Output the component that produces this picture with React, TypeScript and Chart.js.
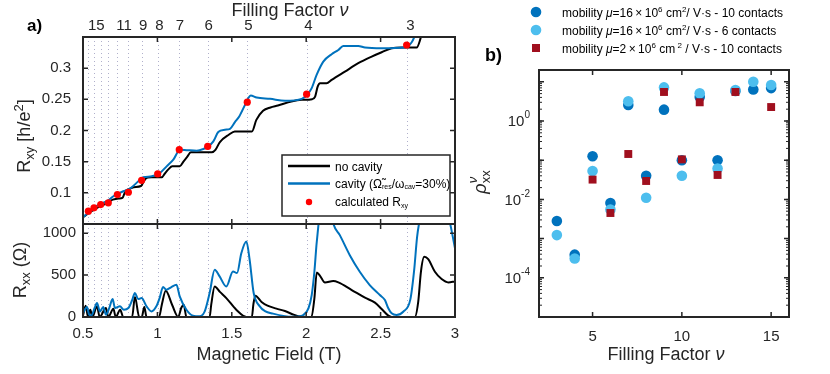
import React, { useEffect, useRef } from 'react';
import { Chart, registerables } from 'chart.js';

Chart.register(...registerables);

const FONT = '"Liberation Sans", Arial, Helvetica, sans-serif';
const AXIS_COLOR = '#262626';
const BLACK = '#000000';
const BLUE = '#0072BD';
const LIGHT_BLUE = '#4DBEEE';
const DARK_RED = '#A00F1E';
const RED = '#FF0000';
const DOT_GRID = 'rgba(150,150,185,0.75)';

// ---------- Panel a (top): Hall resistance Rxy [h/e^2] vs magnetic field (T)
const rxyNoCavityB = [0.50, 0.53, 0.56, 0.58, 0.61, 0.64, 0.67, 0.70, 0.74, 0.765, 0.785, 0.81, 0.84, 0.89, 0.915, 0.935, 0.96, 1.03, 1.05, 1.075, 1.10, 1.15, 1.175, 1.20, 1.225, 1.365, 1.39, 1.42, 1.48, 1.52, 1.635, 1.665, 1.71, 1.76, 1.81, 1.90, 1.97, 2.04, 2.06, 2.077, 2.093, 2.137, 2.171, 2.26, 2.35, 2.44, 2.507, 2.574, 2.64, 2.742, 2.765, 2.79];
const rxyNoCavity = [0.061, 0.066, 0.071, 0.074, 0.078, 0.081, 0.085, 0.089, 0.091, 0.092, 0.1025, 0.106, 0.109, 0.111, 0.121, 0.1245, 0.125, 0.125, 0.131, 0.138, 0.1425, 0.1425, 0.150, 0.1575, 0.165, 0.165, 0.169, 0.1815, 0.1932, 0.1985, 0.1985, 0.217, 0.2316, 0.237, 0.240, 0.2465, 0.2492, 0.2503, 0.2545, 0.2705, 0.2759, 0.2759, 0.2812, 0.2945, 0.3079, 0.3185, 0.3255, 0.3319, 0.333, 0.333, 0.345, 0.370];

const rxyCavityB = [0.50, 0.54, 0.57, 0.60, 0.636, 0.67, 0.704, 0.74, 0.771, 0.816, 0.872, 0.905, 0.962, 1.017, 1.062, 1.107, 1.152, 1.197, 1.264, 1.309, 1.342, 1.376, 1.409, 1.454, 1.488, 1.521, 1.55, 1.589, 1.611, 1.627, 1.667, 1.757, 1.858, 1.97, 2.003, 2.037, 2.07, 2.115, 2.171, 2.216, 2.249, 2.35, 2.395, 2.507, 2.664, 2.709, 2.745];
const rxyCavity = [0.061, 0.069, 0.0759, 0.080, 0.0839, 0.088, 0.0945, 0.099, 0.1025, 0.1069, 0.1185, 0.1249, 0.1265, 0.1319, 0.1425, 0.1532, 0.1692, 0.1685, 0.1676, 0.1703, 0.1745, 0.1825, 0.1975, 0.2012, 0.2028, 0.2135, 0.2225, 0.2412, 0.2519, 0.2561, 0.2529, 0.2508, 0.2476, 0.2508, 0.2561, 0.2679, 0.2892, 0.3105, 0.3223, 0.3292, 0.3356, 0.3356, 0.333, 0.3319, 0.333, 0.3415, 0.36];

// calculated Rxy, one per integer filling factor nu = 15 ... 3
const calcB = [0.536, 0.574, 0.619, 0.670, 0.731, 0.805, 0.894, 1.002, 1.147, 1.338, 1.604, 2.003, 2.675];
const calcRxy = [0.0705, 0.0759, 0.0812, 0.0839, 0.0972, 0.1009, 0.1201, 0.1303, 0.1692, 0.1745, 0.2455, 0.2583, 0.3372];

// top axis (filling factor) labels
const topTickB = [0.589, 0.776, 0.904, 1.013, 1.152, 1.345, 1.612, 2.015, 2.70];
const topTickLabels = ['15', '11', '9', '8', '7', '6', '5', '4', '3'];

const fieldTicks = [0.5, 1, 1.5, 2, 2.5, 3];
const rxyTicks = [0.1, 0.15, 0.2, 0.25, 0.3];
const rxxTicks = [0, 500, 1000];

// ---------- Panel a (bottom): Rxx (Ohm) vs magnetic field (T)
const rxxNoCavityB = [0.50, 0.518, 0.534, 0.549, 0.563, 0.594, 0.612, 0.654, 0.67, 0.704, 0.72, 0.75, 0.77, 0.83, 0.849, 0.878, 0.895, 0.912, 0.927, 1.011, 1.03, 1.056, 1.10, 1.14, 1.16, 1.177, 1.195, 1.351, 1.362, 1.385, 1.42, 1.463, 1.53, 1.598, 1.635, 1.645, 1.658, 1.70, 1.74, 1.80, 1.857, 1.92, 1.96, 2.035, 2.055, 2.071, 2.093, 2.126, 2.182, 2.216, 2.306, 2.395, 2.462, 2.507, 2.552, 2.574, 2.73, 2.753, 2.771, 2.793, 2.82, 2.865, 2.91, 2.955, 3.0];
const rxxNoCavity = [16, 135, 0, 87, 0, 127, 0, 107, 0, 99, 0, 87, 0, 0, 238, 0, 0, 119, 0, 0, 150, 313, 140, 0, 107, 147, 0, 0, 150, 365, 300, 226, 87, 0, 0, 150, 254, 180, 135, 100, 71, 25, 5, 0, 222, 532, 492, 413, 429, 413, 322, 230, 171, 95, 16, 0, 0, 183, 540, 718, 690, 540, 453, 413, 425];

const rxxCavityB = [0.50, 0.527, 0.541, 0.556, 0.578, 0.594, 0.614, 0.636, 0.654, 0.675, 0.699, 0.715, 0.748, 0.775, 0.805, 0.83, 0.849, 0.871, 0.894, 0.927, 0.96, 0.993, 1.015, 1.038, 1.06, 1.094, 1.128, 1.15, 1.195, 1.239, 1.284, 1.318, 1.351, 1.385, 1.418, 1.463, 1.508, 1.535, 1.564, 1.598, 1.62, 1.647, 1.688, 1.723, 1.777, 1.857, 1.90, 1.947, 1.981, 2.015, 2.037, 2.055, 2.071, 2.11, 2.15, 2.182, 2.226, 2.293, 2.36, 2.427, 2.495, 2.529, 2.55, 2.574, 2.607, 2.652, 2.70, 2.725, 2.745, 2.762, 2.80, 2.93, 2.972, 3.0];
const rxxCavity = [48, 119, 30, 16, 107, 167, 67, 119, 28, 100, 214, 107, 127, 87, 107, 200, 286, 214, 226, 127, 67, 127, 226, 357, 326, 357, 385, 246, 87, 16, 8, 67, 286, 564, 484, 365, 544, 524, 762, 901, 683, 286, 127, 71, 40, 10, 2, 5, 24, 103, 262, 540, 897, 1400, 1400, 1115, 977, 738, 540, 381, 262, 202, 111, 44, 24, 63, 210, 550, 950, 1150, 1400, 1400, 1076, 820];

// ---------- Panel b: rho_xx^nu vs filling factor
const nuMu16 = [3, 4, 5, 6, 7, 8, 9, 10, 11, 12, 13, 14, 15];
const rhoMu16c10 = [2.8e-3, 3.9e-4, 0.126, 8.1e-3, 2.56, 0.04, 1.95, 0.1, 4.1, 0.1, 5.8, 6.4, 6.9];
const rhoMu16c6 = [1.23e-3, 3.1e-4, 0.053, 5.5e-3, 3.2, 0.011, 7.2, 0.04, 5.1, 0.061, 6.2, 10, 8.3];
const nuMu2 = [5, 6, 7, 8, 9, 10, 11, 12, 13, 15];
const rhoMu2c10 = [0.032, 4.5e-3, 0.144, 0.0295, 5.5, 0.105, 3.0, 0.042, 5.5, 2.27];
const nuTicks = [5, 10, 15];
const rhoTickExps = [-4, -2, 0];
const rhoDecades = [-5, -4, -3, -2, -1, 0, 1];

// ---------- helpers
const zip = (xs: number[], ys: number[]) => xs.map((x, i) => ({ x, y: ys[i] }));

type Seg = { t: string; size: number; dy?: number; italic?: boolean; bold?: boolean; noAdv?: boolean };

function fontOf(s: Seg) {
  return `${s.italic ? 'italic ' : ''}${s.bold ? 'bold ' : ''}${s.size}px ${FONT}`;
}

function drawRich(ctx: CanvasRenderingContext2D, segs: Seg[], x: number, y: number, align: 'left' | 'center' | 'right', rot = 0, color = AXIS_COLOR) {
  ctx.save();
  ctx.translate(x, y);
  if (rot) ctx.rotate(rot);
  ctx.fillStyle = color;
  ctx.textBaseline = 'alphabetic';
  ctx.textAlign = 'left';
  const widths = segs.map((s) => {
    ctx.font = fontOf(s);
    return ctx.measureText(s.t).width;
  });
  const total = segs.reduce((a, s, i) => a + (s.noAdv ? 0 : widths[i]), 0);
  let cx = align === 'left' ? 0 : align === 'center' ? -total / 2 : -total;
  segs.forEach((s, i) => {
    ctx.font = fontOf(s);
    ctx.fillText(s.t, cx, s.dy || 0);
    if (!s.noAdv) cx += widths[i];
  });
  ctx.restore();
}

function drawFrame(chart: any, xTicks: number[], yTicks: number[], yMinor: number[] = []) {
  const { ctx, chartArea: ca } = chart;
  const xs = chart.scales.x;
  const ys = chart.scales.y;
  ctx.save();
  ctx.strokeStyle = AXIS_COLOR;
  ctx.lineWidth = 1.5;
  ctx.beginPath();
  xTicks.forEach((v) => {
    const p = xs.getPixelForValue(v);
    if (p <= ca.left + 1 || p >= ca.right - 1) return;
    ctx.moveTo(p, ca.bottom); ctx.lineTo(p, ca.bottom - 5);
    ctx.moveTo(p, ca.top); ctx.lineTo(p, ca.top + 5);
  });
  yTicks.forEach((v) => {
    const p = ys.getPixelForValue(v);
    if (p <= ca.top + 1 || p >= ca.bottom - 1) return;
    ctx.moveTo(ca.left, p); ctx.lineTo(ca.left + 5, p);
    ctx.moveTo(ca.right, p); ctx.lineTo(ca.right - 5, p);
  });
  ctx.stroke();
  ctx.lineWidth = 1;
  ctx.beginPath();
  yMinor.forEach((v) => {
    const p = ys.getPixelForValue(v);
    if (p <= ca.top + 1 || p >= ca.bottom - 1) return;
    ctx.moveTo(ca.left, p); ctx.lineTo(ca.left + 3, p);
    ctx.moveTo(ca.right, p); ctx.lineTo(ca.right - 3, p);
  });
  ctx.stroke();
  ctx.lineWidth = 2;
  ctx.strokeRect(ca.left, ca.top, ca.right - ca.left, ca.bottom - ca.top);
  ctx.restore();
}

function drawFillingLines(chart: any) {
  const { ctx, chartArea: ca } = chart;
  const xs = chart.scales.x;
  ctx.save();
  ctx.strokeStyle = DOT_GRID;
  ctx.lineWidth = 1;
  ctx.setLineDash([1, 3]);
  ctx.beginPath();
  calcB.forEach((b) => {
    const p = Math.round(xs.getPixelForValue(b)) + 0.5;
    ctx.moveTo(p, ca.top);
    ctx.lineTo(p, ca.bottom);
  });
  ctx.stroke();
  ctx.restore();
}

const tickFont = { family: FONT, size: 15 };
const noGrid = { display: false, drawTicks: false };
const fixedTicks = (vals: number[]) => (s: any) => {
  s.ticks = vals.map((v) => ({ value: v }));
};

function baseOptions(padding: any) {
  return {
    responsive: false,
    animation: false,
    devicePixelRatio: 1,
    events: [],
    layout: { padding, autoPadding: false },
    plugins: { legend: { display: false }, tooltip: { enabled: false }, title: { display: false } },
  };
}

function lineDs(label: string, xs: number[], ys: number[], color: string, order: number) {
  return {
    label,
    data: zip(xs, ys),
    borderColor: color,
    backgroundColor: color,
    borderWidth: 2,
    pointRadius: 0,
    pointHoverRadius: 0,
    cubicInterpolationMode: 'monotone',
    order,
  };
}

function configRxy(): any {
  return {
    type: 'line',
    data: {
      datasets: [
        {
          label: 'calculated Rxy',
          data: zip(calcB, calcRxy),
          showLine: false,
          pointRadius: 3.6,
          pointHoverRadius: 3.6,
          pointBorderWidth: 0,
          backgroundColor: RED,
          borderColor: RED,
          order: 1,
        },
        lineDs('cavity', rxyCavityB, rxyCavity, BLUE, 2),
        lineDs('no cavity', rxyNoCavityB, rxyNoCavity, BLACK, 3),
      ],
    },
    options: {
      ...baseOptions({ left: 0, top: 0, right: 375, bottom: 150 }),
      scales: {
        x: {
          type: 'linear', position: 'top', min: 0.5, max: 3,
          grid: noGrid, border: { display: false },
          afterBuildTicks: fixedTicks(topTickB),
          afterFit: (s: any) => { s.height = 37; },
          ticks: {
            autoSkip: false, maxRotation: 0, padding: 2, color: AXIS_COLOR, font: tickFont,
            callback: (_v: any, i: number) => topTickLabels[i] ?? '',
          },
        },
        y: {
          type: 'linear', position: 'left', min: 0.05, max: 0.35,
          grid: noGrid, border: { display: false },
          afterBuildTicks: fixedTicks(rxyTicks),
          afterFit: (s: any) => { s.width = 83; },
          ticks: { padding: 12, color: AXIS_COLOR, font: tickFont, callback: (v: any) => String(v) },
        },
      },
    },
    plugins: [
      {
        id: 'panelATop',
        beforeDatasetsDraw(chart: any) { drawFillingLines(chart); },
        afterDraw(chart: any) {
          const { ctx, chartArea: ca } = chart;
          drawFrame(chart, fieldTicks, rxyTicks);
          drawRich(ctx, [{ t: 'a)', size: 17, bold: true }], 27, 31, 'left', 0, '#000');
          drawRich(ctx, [{ t: 'Filling Factor ', size: 18 }, { t: 'ν', size: 18, italic: true }], (ca.left + ca.right) / 2 + 21, 15.5, 'center');
          drawRich(ctx, [
            { t: 'R', size: 18 }, { t: 'xy', size: 13, dy: 4 }, { t: ' [h/e', size: 18 }, { t: '2', size: 13, dy: -7 }, { t: ']', size: 18 },
          ], 30, 136, 'center', -Math.PI / 2);
          // legend box
          const bw = 168, bh = 61;
          const bx = ca.right - 5 - bw, by = ca.bottom - 8 - bh;
          ctx.save();
          ctx.fillStyle = '#fff';
          ctx.fillRect(bx, by, bw, bh);
          ctx.strokeStyle = '#262626';
          ctx.lineWidth = 1.5;
          ctx.strokeRect(bx, by, bw, bh);
          ctx.lineWidth = 2.5;
          ctx.strokeStyle = BLACK;
          ctx.beginPath(); ctx.moveTo(bx + 6, by + 11); ctx.lineTo(bx + 48, by + 11); ctx.stroke();
          ctx.strokeStyle = BLUE;
          ctx.beginPath(); ctx.moveTo(bx + 6, by + 28.5); ctx.lineTo(bx + 48, by + 28.5); ctx.stroke();
          ctx.fillStyle = RED;
          ctx.beginPath(); ctx.arc(bx + 27, by + 47, 3.2, 0, Math.PI * 2); ctx.fill();
          ctx.restore();
          const tx = bx + 53;
          drawRich(ctx, [{ t: 'no cavity', size: 12 }], tx, by + 15.5, 'left', 0, '#000');
          drawRich(ctx, [
            { t: 'cavity (Ω\u0303', size: 12 }, { t: 'res', size: 7, dy: 1 }, { t: '/ω', size: 12 }, { t: 'cav', size: 7, dy: 1 }, { t: '=30%)', size: 12 },
          ], tx, by + 33, 'left', 0, '#000');
          drawRich(ctx, [{ t: 'calculated R', size: 12 }, { t: 'xy', size: 7, dy: 2 }], tx, by + 50.5, 'left', 0, '#000');
        },
      },
    ],
  };
}

function configRxx(): any {
  return {
    type: 'line',
    data: {
      datasets: [
        lineDs('cavity', rxxCavityB, rxxCavity, BLUE, 1),
        lineDs('no cavity', rxxNoCavityB, rxxNoCavity, BLACK, 2),
      ],
    },
    options: {
      ...baseOptions({ left: 0, top: 224, right: 375, bottom: 0 }),
      scales: {
        x: {
          type: 'linear', position: 'bottom', min: 0.5, max: 3,
          grid: noGrid, border: { display: false },
          afterBuildTicks: fixedTicks(fieldTicks),
          afterFit: (s: any) => { s.height = 57; },
          ticks: { autoSkip: false, maxRotation: 0, padding: 8, color: AXIS_COLOR, font: tickFont, callback: (v: any) => String(v) },
        },
        y: {
          type: 'linear', position: 'left', min: 0, max: 1110,
          grid: noGrid, border: { display: false },
          afterBuildTicks: fixedTicks(rxxTicks),
          afterFit: (s: any) => { s.width = 83; },
          ticks: { padding: 7, color: AXIS_COLOR, font: tickFont, callback: (v: any) => String(v) },
        },
      },
    },
    plugins: [
      {
        id: 'panelABottom',
        beforeDatasetsDraw(chart: any) { drawFillingLines(chart); },
        afterDraw(chart: any) {
          const { ctx, chartArea: ca } = chart;
          drawFrame(chart, fieldTicks, rxxTicks);
          drawRich(ctx, [{ t: 'Magnetic Field (T)', size: 18 }], (ca.left + ca.right) / 2, 360, 'center');
          drawRich(ctx, [{ t: 'R', size: 18 }, { t: 'xx', size: 13, dy: 4 }, { t: ' (Ω)', size: 18 }], 25.5, 270, 'center', -Math.PI / 2);
        },
      },
    ],
  };
}

function configRho(): any {
  const minor: number[] = [];
  rhoDecades.forEach((e) => {
    for (let m = 1; m <= 9; m++) minor.push(m * Math.pow(10, e));
  });
  const major = rhoDecades.map((e) => Math.pow(10, e));
  return {
    type: 'scatter',
    data: {
      datasets: [
        {
          label: 'mobility μ=2×10^6 cm^2 / V·s - 10 contacts',
          data: zip(nuMu2, rhoMu2c10),
          pointStyle: 'rect', pointRadius: 5.6, pointHoverRadius: 5.6, pointBorderWidth: 0,
          backgroundColor: DARK_RED, borderColor: DARK_RED, order: 1,
        },
        {
          label: 'mobility μ=16×10^6 cm^2/ V·s - 6 contacts',
          data: zip(nuMu16, rhoMu16c6),
          pointStyle: 'circle', pointRadius: 5.3, pointHoverRadius: 5.3, pointBorderWidth: 0,
          backgroundColor: LIGHT_BLUE, borderColor: LIGHT_BLUE, order: 2,
        },
        {
          label: 'mobility μ=16×10^6 cm^2/ V·s - 10 contacts',
          data: zip(nuMu16, rhoMu16c10),
          pointStyle: 'circle', pointRadius: 5.3, pointHoverRadius: 5.3, pointBorderWidth: 0,
          backgroundColor: BLUE, borderColor: BLUE, order: 3,
        },
      ],
    },
    options: {
      ...baseOptions({ left: 0, top: 70, right: 41, bottom: 0 }),
      scales: {
        x: {
          type: 'linear', position: 'bottom', min: 2, max: 16,
          grid: noGrid, border: { display: false },
          afterBuildTicks: fixedTicks(nuTicks),
          afterFit: (s: any) => { s.height = 57; },
          ticks: { autoSkip: false, maxRotation: 0, padding: 11, color: AXIS_COLOR, font: tickFont, callback: (v: any) => String(v) },
        },
        y: {
          type: 'logarithmic', position: 'left', min: 1e-5, max: 20,
          grid: noGrid, border: { display: false },
          afterBuildTicks: fixedTicks(major),
          afterFit: (s: any) => { s.width = 539; },
          ticks: { display: false },
        },
      },
    },
    plugins: [
      {
        id: 'panelB',
        afterDraw(chart: any) {
          const { ctx, chartArea: ca } = chart;
          const ys = chart.scales.y;
          drawFrame(chart, nuTicks, major, minor);
          rhoTickExps.forEach((e) => {
            const py = ys.getPixelForValue(Math.pow(10, e));
            drawRich(ctx, [{ t: '10', size: 15 }, { t: String(e), size: 10, dy: -8 }], ca.left - 9, py + 5.4, 'right');
          });
          drawRich(ctx, [{ t: 'b)', size: 18, bold: true }], 485, 61, 'left', 0, '#000');
          drawRich(ctx, [{ t: 'Filling Factor ', size: 18 }, { t: 'ν', size: 18, italic: true }], (ca.left + ca.right) / 2 + 2, 360, 'center');
          drawRich(ctx, [
            { t: 'ρ', size: 18, italic: true }, { t: 'ν', size: 13, italic: true, dy: -9, noAdv: true }, { t: 'xx', size: 13, dy: 4 },
          ], 486, 182, 'center', -Math.PI / 2);
          // legend
          const mx = ca.left - 3;
          const tx = ca.left + 23;
          const rows = [ca.top - 58, ca.top - 40, ca.top - 22];
          ctx.save();
          ctx.fillStyle = BLUE;
          ctx.beginPath(); ctx.arc(mx, rows[0], 5.3, 0, Math.PI * 2); ctx.fill();
          ctx.fillStyle = LIGHT_BLUE;
          ctx.beginPath(); ctx.arc(mx, rows[1], 5.3, 0, Math.PI * 2); ctx.fill();
          ctx.fillStyle = DARK_RED;
          ctx.fillRect(mx - 4, rows[2] - 4, 8, 8);
          ctx.restore();
          const mob = (m: string, sp2: string, rest: string): Seg[] => [
            { t: 'mobility ', size: 12 }, { t: 'μ', size: 12, italic: true }, { t: '=' + m + '\u2009×\u200910', size: 12 },
            { t: '6', size: 8, dy: -5 }, { t: ' cm', size: 12 }, { t: sp2 + '2', size: 8, dy: -5 }, { t: rest, size: 12 },
          ];
          drawRich(ctx, mob('16', '', '/ V·s - 10 contacts'), tx, rows[0] + 4.5, 'left', 0, '#000');
          drawRich(ctx, mob('16', '', '/ V·s - 6 contacts'), tx, rows[1] + 4.5, 'left', 0, '#000');
          drawRich(ctx, mob('2', ' ', ' / V·s - 10 contacts'), tx, rows[2] + 4.5, 'left', 0, '#000');
        },
      },
    ],
  };
}

export default function App() {
  const r1 = useRef<HTMLCanvasElement>(null);
  const r2 = useRef<HTMLCanvasElement>(null);
  const r3 = useRef<HTMLCanvasElement>(null);

  useEffect(() => {
    const charts = [
      new Chart(r1.current as HTMLCanvasElement, configRxy()),
      new Chart(r2.current as HTMLCanvasElement, configRxx()),
      new Chart(r3.current as HTMLCanvasElement, configRho()),
    ];
    return () => charts.forEach((c) => c.destroy());
  }, []);

  const cs: React.CSSProperties = { position: 'absolute', left: 0, top: 0, width: 830, height: 374 };
  return (
    <div style={{ position: 'fixed', left: 0, top: 0, width: 830, height: 374, background: '#fff', overflow: 'hidden' }}>
      <canvas ref={r1} width={830} height={374} style={cs} />
      <canvas ref={r2} width={830} height={374} style={cs} />
      <canvas ref={r3} width={830} height={374} style={cs} />
    </div>
  );
}
